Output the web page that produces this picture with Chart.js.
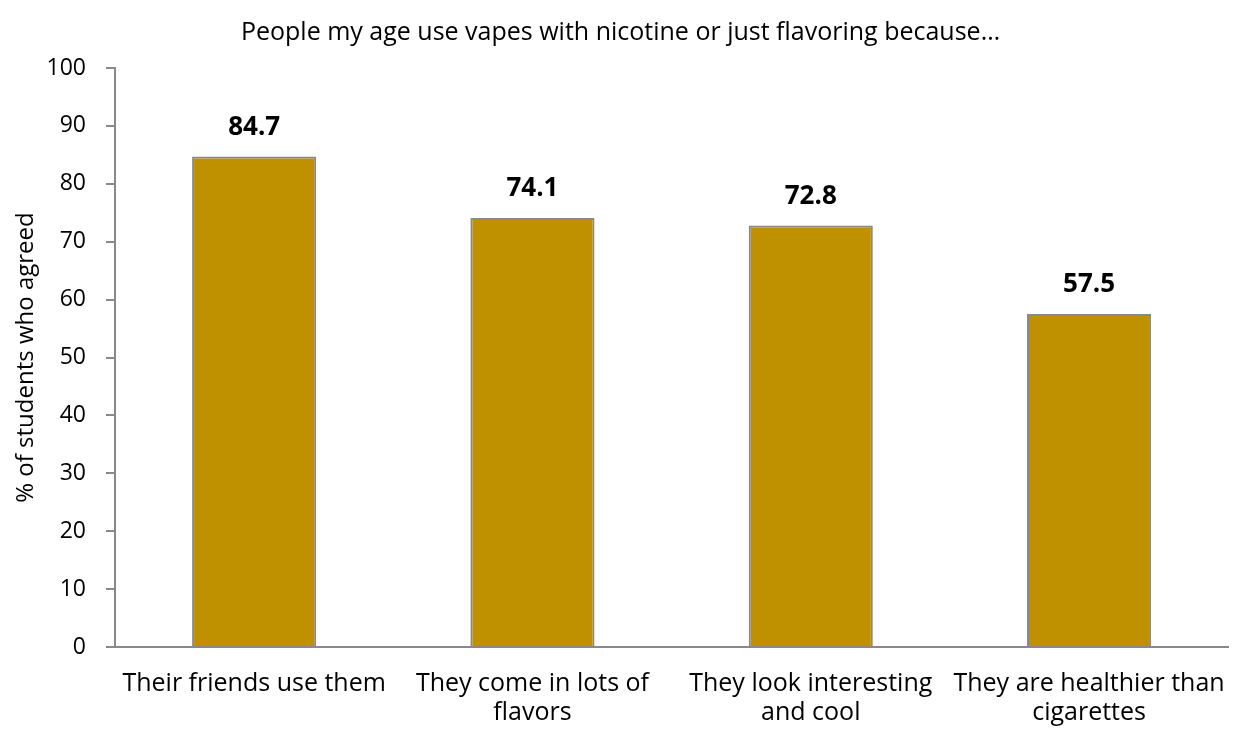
<!DOCTYPE html>
<html>
<head>
<meta charset="utf-8">
<script src="https://cdn.jsdelivr.net/npm/chart.js@4/dist/chart.umd.min.js"></script>
<style>
  html, body { margin: 0; padding: 0; background: #fff; }
  #wrap { width: 1240px; height: 736px; }
</style>
</head>
<body>
<div id="wrap"><canvas id="myChart"></canvas></div>
<script>
let reasons = [
    "Their friends use them",
    ["They come in lots of", "flavors"],
    ["They look interesting", "and cool"],
    ["They are healthier than", "cigarettes"]
];
let agreedPercent = [84.7, 74.1, 72.8, 57.5];
let yTicks = [0, 10, 20, 30, 40, 50, 60, 70, 80, 90, 100];

let fontName = "'Open Sans', sans-serif";
let axisGrey = '#898989';

// writes the value over each bar, bold
let barValues = {
    id: 'barValues',
    afterDatasetsDraw(chart) {
        let ctx = chart.ctx;
        let meta = chart.getDatasetMeta(0);
        ctx.save();
        ctx.font = "bold 26px " + fontName;
        ctx.fillStyle = '#000';
        ctx.textAlign = 'center';
        ctx.textBaseline = 'middle';
        meta.data.forEach(function(bar, i) {
            ctx.fillText(agreedPercent[i].toFixed(1), bar.x, bar.y - 29);
        });
        ctx.restore();
    }
};

var ctx = document.getElementById('myChart').getContext('2d');
var chart = new Chart(ctx, {
    type: 'bar',
    data: {
        labels: reasons,
        datasets: [{
            data: agreedPercent,
            backgroundColor: '#BF9000',
            borderColor: axisGrey,
            borderWidth: 2,
            barPercentage: 0.446,
            categoryPercentage: 1.0
        }]
    },
    options: {
        responsive: true,
        maintainAspectRatio: false,
        animation: false,
        layout: { padding: { left: 12, right: 11, top: 0, bottom: 9 } },
        plugins: {
            legend: { display: false },
            tooltip: { enabled: false },
            title: {
                display: true,
                text: 'People my age use vapes with nicotine or just flavoring because…',
                color: '#000',
                font: { family: fontName, size: 25, weight: 'normal' },
                padding: { top: 18, bottom: 20 }
            }
        },
        scales: {
            x: {
                afterFit: function(axis) {
                    axis.height = 80;
                },
                grid: { display: false },
                border: { color: axisGrey, width: 2 },
                ticks: {
                    color: '#000',
                    font: { family: fontName, size: 25, lineHeight: 1.16 },
                    maxRotation: 0,
                    autoSkip: false,
                    padding: 14
                }
            },
            y: {
                min: 0,
                max: 100,
                afterBuildTicks: function(axis) {
                    axis.ticks = yTicks.map(function(v) { return { value: v }; });
                },
                afterFit: function(axis) {
                    axis.width = 103;
                },
                grid: {
                    drawOnChartArea: false,
                    drawTicks: true,
                    tickLength: 9,
                    color: axisGrey,
                    lineWidth: 2
                },
                border: { color: axisGrey, width: 2 },
                ticks: {
                    color: '#000',
                    font: { family: fontName, size: 23 },
                    padding: 20
                },
                title: {
                    display: true,
                    text: '% of students who agreed',
                    color: '#000',
                    font: { family: fontName, size: 24 },
                    padding: { top: 0, bottom: 0 }
                }
            }
        }
    },
    plugins: [barValues]
});
</script>
</body>
</html>
